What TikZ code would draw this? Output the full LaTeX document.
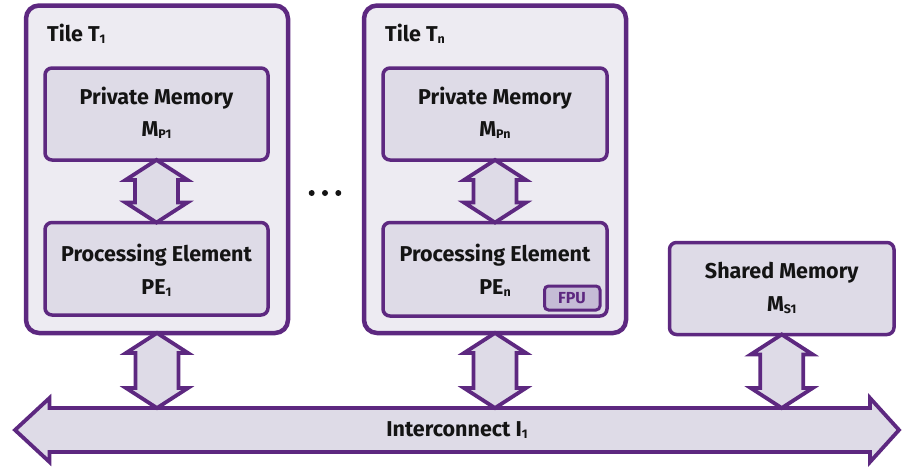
\documentclass[tikz,border=0pt]{standalone}
\usepackage{fontspec}
\setmainfont{Fira Sans}
\usetikzlibrary{calc}

\definecolor{edge}{RGB}{93,40,128}
\definecolor{tilefill}{RGB}{237,235,242}
\definecolor{boxfill}{RGB}{222,219,231}
\definecolor{fpufill}{RGB}{197,188,214}
\definecolor{ink}{RGB}{20,20,20}

\newcommand{\sub}[1]{\raisebox{-2.5pt}{\fontsize{12.5}{13}\selectfont #1}}

% vertical two-headed block arrow between two points (top, bottom)
\newcommand{\vlink}[2]{%
  \draw[linkarrow] (#1)
    -- ([shift={(31,20)}]#1) -- ([shift={(21.5,20)}]#1)
    -- ([shift={(21.5,-20)}]#2) -- ([shift={(31,-20)}]#2)
    -- (#2)
    -- ([shift={(-31,-20)}]#2) -- ([shift={(-21.5,-20)}]#2)
    -- ([shift={(-21.5,20)}]#1) -- ([shift={(-31,20)}]#1)
    -- cycle;}

\begin{document}
\begin{tikzpicture}[x=1pt,y=-1pt,
  tilebox/.style={draw=edge,fill=tilefill,line width=4.5pt,rounded corners=13pt},
  membox/.style={draw=edge,fill=boxfill,line width=3.5pt,rounded corners=7pt},
  fpubox/.style={draw=edge,fill=fpufill,line width=3pt,rounded corners=4pt},
  linkarrow/.style={draw=edge,fill=boxfill,line width=3.8pt,line join=miter},
  txt/.style={text=ink,font=\fontsize{21.5}{24}\selectfont\bfseries,inner sep=0pt},
  dot/.style={fill=ink,draw=none}]

\useasboundingbox (0,0) rectangle (903,469);

% tiles
\draw[tilebox] (26,5.5) rectangle (288,333);
\coordinate (tile1) at (157,333);
\draw[tilebox] (364,5.5) rectangle (626,333);
\coordinate (tilen) at (495,333);

\node[txt,anchor=west] (t1lbl) at (47,34) {Tile T\sub{1}};
\node[txt,anchor=west] (tnlbl) at (385,34) {Tile T\sub{n}};

% private memories
\draw[membox] (45,68) rectangle (268,160);
\coordinate (pm1s) at (156.5,160);
\node[txt] (pm1a) at (156.5,98) {Private Memory};
\node[txt] (pm1b) at (156.5,130) {M\sub{P1}};

\draw[membox] (383,68) rectangle (607,160);
\coordinate (pmns) at (495,160);
\node[txt] (pmna) at (495,98) {Private Memory};
\node[txt] (pmnb) at (495,130) {M\sub{Pn}};

% processing elements
\draw[membox] (45,222.5) rectangle (268,315);
\coordinate (pe1n) at (156.5,222.5);
\node[txt] (pe1a) at (156.5,255) {Processing Element};
\node[txt] (pe1b) at (156.5,288) {PE\sub{1}};

\draw[membox] (383,222.5) rectangle (607,316);
\coordinate (pens) at (495,222.5);
\node[txt] (pena) at (495,255) {Processing Element};
\node[txt] (penb) at (495,288) {PE\sub{n}};

\draw[fpubox] (544.5,286) rectangle (600,310);
\node[txt,text=edge,font=\fontsize{16}{18}\selectfont\bfseries] (fpu) at (572,298) {FPU};

% shared memory
\draw[membox] (669.5,242.5) rectangle (894,334.5);
\coordinate (sm) at (781.75,334.5);
\node[txt] (sma) at (781.75,273) {Shared Memory};
\node[txt] (smb) at (781.75,305) {M\sub{S1}};

% dots between the tiles
\fill[dot] (311.7,193) circle (3);
\fill[dot] (325,193) circle (3);
\fill[dot] (338.3,193) circle (3);

% interconnect
\draw[linkarrow] (15,430) -- (49.5,398) -- (49.5,408) -- (870,408) -- (870,398)
  -- (899,430) -- (870,462) -- (870,452) -- (49.5,452) -- (49.5,462) -- cycle;
\node[txt] (ic) at (457,430) {Interconnect I\sub{1}};
\coordinate (ictop) at (0,408);

% links
\vlink{pm1s}{pe1n}
\vlink{pmns}{pens}
\vlink{tile1}{tile1 |- ictop}
\vlink{tilen}{tilen |- ictop}
\vlink{sm}{sm |- ictop}

\end{tikzpicture}
\end{document}
